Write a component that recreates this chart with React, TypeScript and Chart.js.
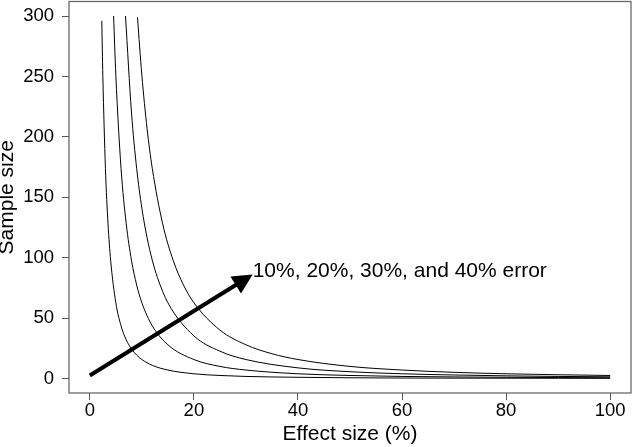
import React, { useEffect, useRef } from "react";
import { Chart, registerables } from "chart.js";

Chart.register(...registerables);

// Effect size (%) and sample size (10%, 20%, 30%, 40% error)
const effect10 = [2.3, 2.5, 3, 3.5, 4, 5, 6, 7, 8, 9, 10, 12, 15, 20, 25, 30, 40, 50, 60, 70, 80, 90, 100];
const sample10 = [296, 251, 174, 128, 98, 62.7, 43.6, 32, 24.5, 19.4, 15.7, 10.9, 7.0, 3.9, 2.5, 1.7, 1.0, 0.6, 0.4, 0.3, 0.25, 0.2, 0.16];

const effect20 = [4.57, 5, 6, 7, 8, 9, 10, 12, 15, 20, 25, 30, 40, 50, 60, 70, 80, 90, 100];
const sample20 = [300, 251, 174, 128, 98, 77.4, 62.7, 43.6, 27.9, 15.7, 10, 7, 3.9, 2.5, 1.7, 1.3, 1.0, 0.8, 0.6];

const effect30 = [6.86, 8, 9, 10, 11, 12, 13, 15, 20, 25, 30, 40, 50, 60, 70, 80, 90, 100];
const sample30 = [300, 220.5, 174, 141, 116.6, 98, 83.5, 62.7, 35.3, 22.6, 15.7, 8.8, 5.6, 3.9, 2.9, 2.2, 1.7, 1.4];

const effect40 = [9.16, 10, 11, 12, 14, 16, 18, 20, 25, 30, 35, 40, 50, 60, 70, 80, 90, 100];
const sample40 = [299, 251, 207, 174, 128, 98, 77.4, 62.7, 40.1, 27.9, 20.5, 15.7, 10, 7, 5.1, 3.9, 3.1, 2.5];

const xTicks = [0, 20, 40, 60, 80, 100];
const yTicks = [0, 50, 100, 150, 200, 250, 300];

const arrowFrom = [0, 2.5];
const arrowTo = [31.3, 86];
const annotation = "10%, 20%, 30%, and 40% error";

const FONT = "'Liberation Sans', Arial, Helvetica, sans-serif";

function toPoints(xs: number[], ys: number[]) {
  return xs.map((x, i) => ({ x, y: ys[i] }));
}

export default function App() {
  const ref = useRef<HTMLCanvasElement | null>(null);

  useEffect(() => {
    document.body.style.margin = "0";
    const canvas = ref.current;
    if (!canvas) return;

    const boxPlugin = {
      id: "boxAndArrow",
      afterDatasetsDraw(chart: any) {
        const { ctx, chartArea, scales } = chart;
        ctx.save();
        // plot box
        ctx.strokeStyle = "#6a6a6a";
        ctx.lineWidth = 1.3;
        ctx.strokeRect(chartArea.left, chartArea.top, chartArea.right - chartArea.left, chartArea.bottom - chartArea.top);

        // arrow
        const x0 = scales.x.getPixelForValue(arrowFrom[0]);
        const y0 = scales.y.getPixelForValue(arrowFrom[1]);
        const x1 = scales.x.getPixelForValue(arrowTo[0]);
        const y1 = scales.y.getPixelForValue(arrowTo[1]);
        const ang = Math.atan2(y1 - y0, x1 - x0);
        const headLen = 20;
        const headHalf = 10;
        const bx = x1 - headLen * Math.cos(ang);
        const by = y1 - headLen * Math.sin(ang);
        ctx.strokeStyle = "#000";
        ctx.lineWidth = 4;
        ctx.lineCap = "butt";
        ctx.beginPath();
        ctx.moveTo(x0, y0);
        ctx.lineTo(bx + 2 * Math.cos(ang), by + 2 * Math.sin(ang));
        ctx.stroke();
        ctx.fillStyle = "#000";
        ctx.beginPath();
        ctx.moveTo(x1, y1);
        ctx.lineTo(bx + headHalf * Math.sin(ang), by - headHalf * Math.cos(ang));
        ctx.lineTo(bx - headHalf * Math.sin(ang), by + headHalf * Math.cos(ang));
        ctx.closePath();
        ctx.fill();

        // annotation text
        ctx.font = `21px ${FONT}`;
        ctx.textAlign = "left";
        ctx.textBaseline = "alphabetic";
        ctx.fillStyle = "#000";
        ctx.fillText(annotation, x1, y1 + 2.5);
        ctx.restore();
      },
    };

    const lineDs = (xs: number[], ys: number[]) => ({
      data: toPoints(xs, ys),
      borderColor: "#000",
      borderWidth: 1,
      pointRadius: 0,
      fill: false,
      cubicInterpolationMode: "monotone" as const,
      showLine: true,
    });

    const chart = new Chart(canvas, {
      type: "scatter",
      data: {
        datasets: [
          lineDs(effect10, sample10),
          lineDs(effect20, sample20),
          lineDs(effect30, sample30),
          lineDs(effect40, sample40),
        ],
      },
      options: {
        animation: false,
        responsive: false,
        devicePixelRatio: 1,
        layout: { padding: { left: 0, top: 1.5, right: 1, bottom: 0 } },
        plugins: {
          legend: { display: false },
          tooltip: { enabled: false },
        },
        scales: {
          x: {
            type: "linear",
            min: -4,
            max: 104,
            afterBuildTicks: (scale: any) => {
              scale.ticks = xTicks.map((v) => ({ value: v }));
            },
            afterFit: (scale: any) => {
              scale.height = 54;
              scale.paddingLeft = 0;
              scale.paddingRight = 0;
            },
            grid: { display: true, drawOnChartArea: false, drawTicks: true, tickLength: 7, color: "#555", lineWidth: 1 },
            border: { display: false },
            ticks: { padding: 0, color: "#000", font: { family: FONT, size: 18.5 }, maxRotation: 0 },
            title: {
              display: true,
              text: "Effect size (%)",
              color: "#000",
              font: { family: FONT, size: 21 },
              padding: { top: 0, bottom: 0 },
            },
          },
          y: {
            type: "linear",
            min: -12,
            max: 312,
            afterBuildTicks: (scale: any) => {
              scale.ticks = yTicks.map((v) => ({ value: v }));
            },
            afterFit: (scale: any) => {
              scale.width = 69;
              scale.paddingTop = 0;
              scale.paddingBottom = 0;
            },
            grid: { display: true, drawOnChartArea: false, drawTicks: true, tickLength: 7, color: "#555", lineWidth: 1 },
            border: { display: false },
            ticks: { padding: 8, color: "#000", font: { family: FONT, size: 18.5 } },
            title: {
              display: true,
              text: "Sample size",
              color: "#000",
              font: { family: FONT, size: 21 },
              padding: { top: -5, bottom: 0 },
            },
          },
        },
      },
      plugins: [boxPlugin],
    });

    return () => chart.destroy();
  }, []);

  return (
    <div style={{ width: 632, height: 447 }}>
      <canvas ref={ref} width={632} height={447} style={{ display: "block" }} />
    </div>
  );
}
